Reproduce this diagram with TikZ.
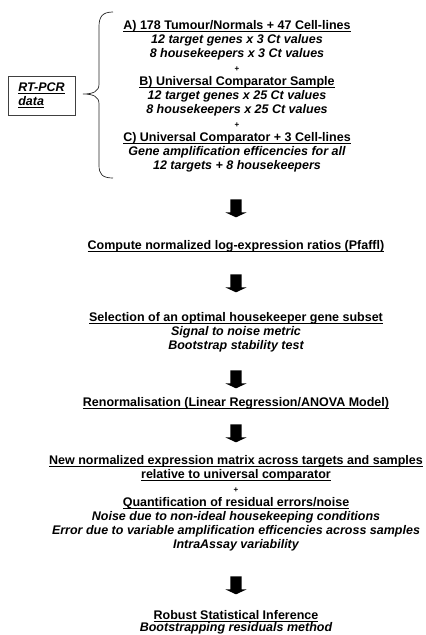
\documentclass[tikz,border=0pt]{standalone}
\usepackage{amsmath}
\usepackage{fontspec}
\setmainfont{Liberation Sans}
\usetikzlibrary{shapes.arrows, positioning}

% underline close to the baseline
\newcommand{\ulbase}[1]{\underline{\smash[b]{#1}}}

\begin{document}
\begin{tikzpicture}[x=1pt, y=-1pt,
    every node/.style={font=\fontsize{12.5}{14}\selectfont\bfseries, align=center, inner sep=0pt},
    downarrow/.style={single arrow, fill=black, rotate=-90, inner xsep=0pt, inner ysep=5.5pt,
        minimum height=18pt, single arrow head extend=5pt, single arrow tip angle=130}]
            % Fixed page size
            \path[use as bounding box] (0,0) rectangle (426,635);

            % Input data
            \node[draw=black!75, line width=0.8pt, align=left, minimum width=67pt, minimum height=39pt] (rtpcr) at (41.5,95.5)
                {\itshape\ulbase{RT-PCR}\\\itshape\ulbase{data}};
            \node (inputs) at (237,96.5) {\ulbase{A) 178 Tumour/Normals + 47 Cell-lines}\\
                {\itshape 12 target genes x 3 Ct values}\\
                {\itshape 8 housekeepers x 3 Ct values}\\
                {\fontsize{8}{14}\selectfont +}\\
                \ulbase{B) Universal Comparator Sample}\\
                {\itshape 12 target genes x 25 Ct values}\\
                {\itshape 8 housekeepers x 25 Ct values}\\
                {\fontsize{8}{14}\selectfont +}\\
                \ulbase{C) Universal Comparator + 3 Cell-lines}\\
                {\itshape Gene amplification efficencies for all}\\
                {\itshape 12 targets + 8 housekeepers}};
            % Brace
            \draw[black!85, line width=0.7pt] (113,12) .. controls (102,12) and (99,17) .. (99,27) -- (99,84)
                .. controls (99,91) and (94,94) .. (83,94)
                .. controls (94,94) and (99,97) .. (99,104) -- (99,165)
                .. controls (99,174) and (102,178) .. (113,178);

            % Processing steps
            \node (ratios) at (236,246.5) {\ulbase{Compute normalized log-expression ratios (Pfaffl)}};
            \node (subset) at (236,332) {\ulbase{Selection of an optimal housekeeper gene subset}\\
                {\itshape Signal to noise metric}\\
                {\itshape Bootstrap stability test}};
            \node (renorm) at (236,403) {\ulbase{Renormalisation (Linear Regression/ANOVA Model)}};
            \node (matrix) at (236,503) {\ulbase{New normalized expression matrix across targets and samples}\\
                \ulbase{relative to universal comparator}\\
                {\fontsize{8}{14}\selectfont +}\\
                \ulbase{Quantification of residual errors/noise}\\
                {\itshape Noise due to non-ideal housekeeping conditions}\\
                {\itshape Error due to variable amplification efficencies across samples}\\
                {\itshape IntraAssay variability}};
            \node[font=\fontsize{12.5}{12}\selectfont\bfseries] (infer) at (236,622.5) {\ulbase{Robust Statistical Inference}\\
                {\itshape Bootstrapping residuals method}};

            % Block arrows
            \foreach \y [count=\i] in {207,282,378,432,584} {
                \node[downarrow] (arr\i) at (236,\y) {};
            }
        \end{tikzpicture}
\end{document}
